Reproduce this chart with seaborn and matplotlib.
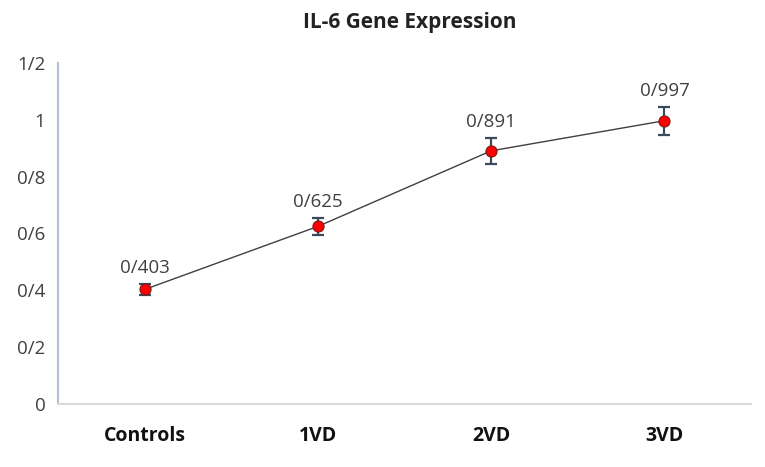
import matplotlib
matplotlib.use("Agg")
import matplotlib.pyplot as plt
import seaborn as sns
import pandas as pd

# data
groups = ["Controls", "1VD", "2VD", "3VD"]
expression = [0.403, 0.625, 0.891, 0.997]
errors = [0.02, 0.03, 0.045, 0.05]
point_labels = ["0/403", "0/625", "0/891", "0/997"]
y_ticks = [0, 0.2, 0.4, 0.6, 0.8, 1.0, 1.2]
y_tick_labels = ["0", "0/2", "0/4", "0/6", "0/8", "1", "1/2"]

df = pd.DataFrame({"group": groups, "value": expression})

sns.set_style("white")
plt.rcParams["font.family"] = ["Open Sans", "DejaVu Sans"]

fig = plt.figure(figsize=(7.65, 4.67), dpi=100)
ax = fig.add_axes([0.0758, 0.135, 0.906, 0.73])

ax.errorbar(range(len(groups)), expression, yerr=errors, fmt="none",
            ecolor="#3c4a5e", elinewidth=1.6, capsize=4, capthick=1.6, zorder=2)
sns.lineplot(data=df, x="group", y="value", ax=ax, color="#404040", linewidth=1,
             marker="o", markersize=8, markerfacecolor="#ff0000",
             markeredgecolor="#7a1a1a", markeredgewidth=0.8, zorder=3)

for i, (v, e, lab) in enumerate(zip(expression, errors, point_labels)):
    ax.annotate(lab, (i, v + e), xytext=(0, 5), textcoords="offset points",
                ha="center", va="bottom", fontsize=13.5, color="#404040")

ax.set_xlim(-0.5, len(groups) - 0.5)
ax.set_ylim(0, 1.2)
ax.set_yticks(y_ticks)
ax.set_yticklabels(y_tick_labels, fontsize=13.5, color="#404040")
ax.set_xticks(range(len(groups)))
ax.set_xticklabels(groups, fontsize=14, fontweight="bold", color="#111111")
ax.tick_params(axis="both", length=0)
ax.tick_params(axis="y", pad=9)
ax.tick_params(axis="x", pad=16)
ax.set_xlabel("")
ax.set_ylabel("")

for side in ["top", "right"]:
    ax.spines[side].set_visible(False)
ax.spines["left"].set_color("#b4c0d8")
ax.spines["left"].set_linewidth(1.5)
ax.spines["bottom"].set_color("#d9d9d9")
ax.spines["bottom"].set_linewidth(1.5)

fig.suptitle("IL-6 Gene Expression", x=0.535, y=0.975, fontsize=15, fontweight="bold",
             color="#222222")

fig.savefig("out.png", dpi=100)
